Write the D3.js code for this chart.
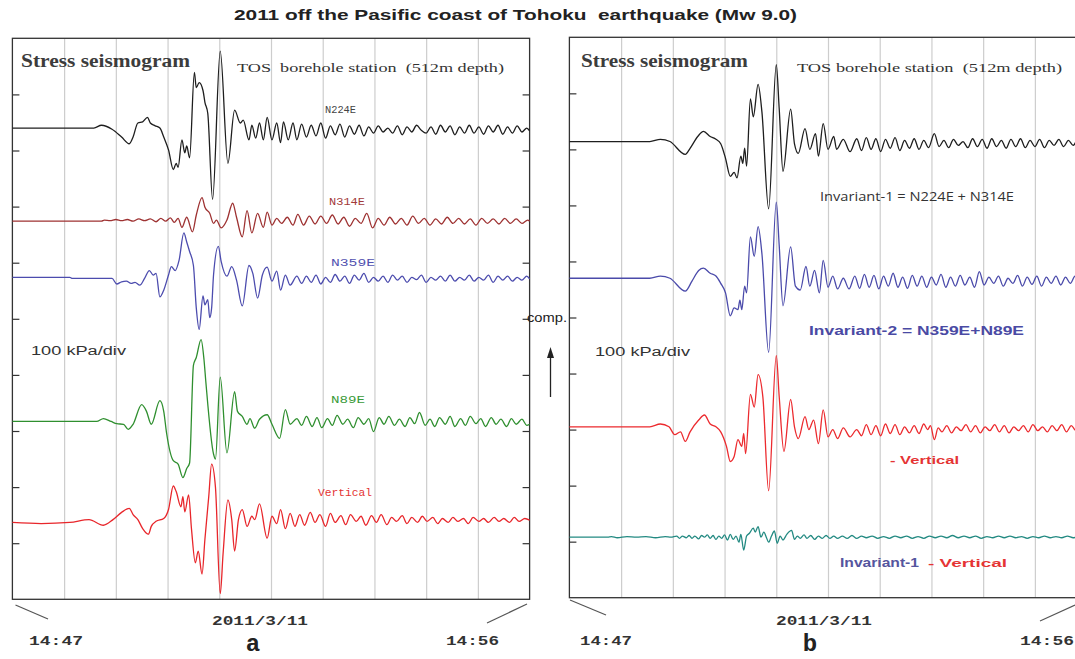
<!DOCTYPE html>
<html>
<head>
<meta charset="utf-8">
<script src="https://cdn.jsdelivr.net/npm/d3@7"></script>
<style>
  body { margin: 0; background: #fff; }
  svg { display: block; }
</style>
</head>
<body>
<svg id="chart" width="1075" height="659"></svg>
<script>
// time in seconds after 14:47 (axis runs to 14:56), stress in kPa (100 kPa/div)
var timeTicks = [54, 108, 162, 216, 270, 324, 378, 432, 486];
var kpaTicks = [100, 200, 300, 400, 500, 600, 700, 800, 900];

// trace baselines, kPa above the bottom of each panel
var offsetsA = [840, 674, 574, 317, 137];
var offsetsB = [814, 570, 305, 108];

// [seconds, kPa]
var n224e = [[0,0],[85,0],[93,5],[104,-2],[114,-16],[122,-28],[126,-16],[131,9],[136,11],[141,19],[144,9],[149,4],[154,0],[158,-16],[163,-39],[168,-74],[171,-63],[173,-70],[177,-21],[180,-44],[182,-32],[185,-53],[190,99],[192,72],[195,81],[199,67],[201,46],[204,26],[209,-127],[217,137],[225,-63],[232,32],[238,9],[241,14],[247,-21],[250,5],[254,-18],[258,9],[262,-21],[266,19],[271,-21],[276,9],[280,-26],[283,11],[288,-21],[293,9],[297,-21],
  [302,7],[307,-16],[312,5],[317,-14],[322,9],[327,-18],[332,4],[337,-12],[342,7],[347,-16],[352,4],[357,-11],[362,5],[367,-14],[372,2],[377,-9],[382,4],[387,-7],[392,0],[397,-9],[402,4],[407,-12],[412,2],[417,-7],[422,5],[427,-4],[432,-9],[437,2],[442,-11],[447,5],[452,-7],[457,4],[462,-12],[467,2],[472,-9],[477,5],[482,-9],[487,2],[492,-11],[497,4],[502,-7],[507,5],[512,-11],[517,2],[522,-9],[527,4],[532,-7],[537,0],[540,-5]];

var n314e = [[0,0],[93,0],[96,2],[102,1],[108,3],[114,1],[120,3],[126,0],[132,4],[138,1],[144,4],[150,-1],[155,5],[160,0],[165,6],[169,-2],[173,5],[177,-11],[182,7],[188,-19],[192,11],[198,42],[201,25],[206,14],[210,-4],[213,2],[218,-12],[224,2],[230,32],[234,7],[240,-28],[245,19],[250,-21],[256,14],[262,-11],[266,16],[271,-7],[276,5],[281,-4],[287,7],[293,-7],[298,12],[304,-7],[310,9],[316,-5],[322,9],[328,-4],[334,11],[340,-5],[346,7],[352,-9],[358,5],[364,-4],[370,14],[376,-12],[382,5],[388,-7],[394,7],[400,-5],[406,5],[412,-7],[418,9],[424,-4],[430,5],[436,-7],[442,4],[448,-5],[454,7],[460,-4],[466,5],[472,-5],[478,4],[484,-7],[490,5],[496,-4],[502,4],[508,-5],[514,5],[520,-4],[526,4],[532,-4],[538,2],[540,0]];

var n359e = [[0,0],[60,0],[62,-2],[104,-2],[109,-12],[114,-8],[119,-7],[124,-11],[128,-9],[133,-14],[138,-2],[143,12],[147,4],[150,7],[154,-35],[158,-23],[163,4],[166,19],[170,12],[174,30],[179,79],[182,63],[185,46],[189,21],[192,-55],[195,-93],[199,-33],[201,-49],[204,-40],[206,-72],[208,-55],[210,4],[215,55],[218,28],[224,2],[229,19],[234,-5],[240,-51],[247,21],[251,7],[256,-37],[261,4],[266,18],[271,-7],[276,11],[280,-23],[285,4],[290,-14],[297,2],
  [302,-11],[307,2],[312,-9],[317,4],[322,-12],[327,0],[332,-9],[337,5],[342,-7],[347,2],[352,-11],[357,4],[362,-5],[367,7],[372,-9],[377,0],[382,-7],[387,2],[392,-9],[397,4],[402,-5],[407,2],[412,-9],[417,0],[422,-4],[427,4],[432,-9],[437,0],[442,-5],[447,2],[452,-7],[457,4],[462,-7],[467,0],[472,-5],[477,4],[482,-7],[487,0],[492,-5],[497,4],[502,-9],[507,2],[512,-5],[517,2],[522,-7],[527,0],[532,-5],[537,2],[540,-3]];

var n89e = [[0,0],[88,0],[95,5],[103,0],[109,-4],[116,-5],[121,-14],[126,-5],[135,30],[140,18],[145,-5],[154,37],[158,18],[161,-21],[168,-70],[173,-76],[178,-100],[182,-84],[185,-74],[189,100],[192,114],[197,146],[200,111],[202,70],[210,-58],[212,-67],[217,79],[224,-56],[232,53],[235,18],[240,9],[245,-5],[248,5],[253,-12],[258,4],[266,12],[271,-5],[279,-30],[285,21],[290,-5],[297,5],
  [302,-7],[307,9],[313,-9],[318,7],[323,-11],[329,5],[334,-7],[339,11],[345,-5],[350,4],[356,-11],[361,7],[367,-5],[372,5],[377,-18],[383,7],[388,-5],[393,9],[399,-7],[404,4],[410,-9],[415,7],[420,-4],[425,16],[431,-7],[436,4],[441,-9],[446,7],[452,-5],[457,9],[462,-9],[468,5],[473,-7],[478,9],[484,-4],[489,5],[494,-9],[500,7],[505,-5],[510,4],[516,-9],[521,5],[526,-5],[532,4],[537,-7],[540,-5]];

var verticalA = [[0,0],[30,-2],[60,0],[80,5],[95,-5],[105,5],[114,18],[122,25],[126,14],[131,5],[136,-11],[142,-21],[145,-7],[150,2],[158,7],[163,23],[168,65],[171,55],[176,28],[178,46],[180,19],[184,49],[187,-12],[191,-72],[194,-51],[198,-92],[201,-30],[205,46],[208,104],[212,63],[217,-127],[220,-55],[225,40],[229,5],[232,-51],[236,5],[240,23],[245,-7],[250,11],[253,5],[258,33],[266,-28],[271,11],[276,-2],[280,23],[285,-11],[290,16],[295,-7],
  [300,14],[305,-5],[311,18],[316,0],[321,14],[327,-7],[332,16],[337,0],[343,12],[348,-4],[353,14],[359,2],[364,11],[369,-5],[375,12],[380,0],[385,14],[391,-4],[396,9],[401,2],[407,12],[412,-2],[417,9],[423,0],[428,11],[433,2],[439,9],[444,-2],[449,7],[455,0],[460,9],[465,2],[471,7],[476,-2],[481,9],[487,2],[492,7],[497,0],[503,9],[508,2],[513,7],[519,0],[524,9],[529,2],[535,7],[540,4]];

var invariant1 = [[0,0],[84,0],[95,4],[105,0],[121,-23],[126,-12],[134,9],[140,18],[147,9],[153,4],[158,-4],[163,-30],[168,-62],[172,-55],[175,-65],[179,-26],[181,-39],[183,-12],[185,-44],[189,76],[192,44],[197,102],[201,53],[208,-120],[216,137],[219,60],[223,-53],[231,58],[235,-4],[239,-21],[246,23],[251,-14],[257,14],[260,-26],[265,32],[270,-14],[276,9],[279,-14],[286,4],[293,-18],[300,5],
  [305,-16],[310,7],[315,-14],[320,5],[325,-18],[330,4],[335,-12],[340,7],[345,-16],[350,2],[355,-12],[360,5],[365,-14],[370,2],[375,-11],[381,14],[386,-9],[391,2],[396,-11],[401,4],[406,-7],[411,0],[416,-11],[421,5],[426,-9],[431,4],[436,-12],[441,5],[446,-9],[451,2],[456,-12],[461,4],[466,-9],[471,5],[476,-11],[481,2],[486,-9],[491,4],[496,-11],[501,2],[506,-7],[511,4],[516,-9],[521,2],[526,-7],[531,4],[536,-5],[540,0]];

var invariant2 = [[0,0],[84,0],[95,4],[105,0],[121,-23],[128,-5],[135,14],[140,18],[147,9],[153,4],[158,-9],[163,-26],[168,-67],[172,-53],[176,-56],[178,-39],[180,-56],[183,-14],[185,-26],[189,74],[193,39],[197,92],[201,44],[208,-132],[216,136],[219,60],[223,-49],[231,56],[236,-14],[241,-21],[247,21],[251,-14],[256,14],[261,-26],[265,32],[270,-16],[275,4],[280,-19],[286,0],[292,-19],[298,4],
  [303,-18],[308,7],[313,-16],[318,5],[323,-19],[328,4],[333,-14],[338,9],[343,-16],[348,2],[353,-18],[358,5],[363,-14],[368,4],[373,-16],[378,2],[383,-12],[388,7],[393,-16],[398,2],[403,-14],[408,5],[413,-12],[418,2],[423,-16],[428,12],[433,-12],[438,2],[443,-9],[448,4],[453,-14],[458,0],[463,-9],[468,5],[473,-14],[478,2],[483,-11],[488,4],[493,-14],[498,2],[503,-9],[508,4],[513,-12],[518,2],[523,-9],[528,4],[533,-9],[538,2],[540,-2]];

var verticalB = [[0,0],[84,0],[95,5],[104,0],[110,-14],[116,-9],[121,-26],[126,-9],[135,12],[141,21],[147,5],[153,0],[158,-9],[164,-35],[168,-62],[172,-53],[176,-23],[180,-35],[182,-12],[184,-48],[189,58],[193,35],[197,93],[202,53],[208,-114],[216,127],[219,55],[224,-44],[231,49],[235,0],[239,-21],[246,18],[250,-5],[255,12],[260,-30],[265,30],[270,-18],[275,-5],[280,-21],[286,-2],[293,-18],[300,-5],
  [305,-16],[310,4],[315,-14],[320,2],[325,-16],[330,5],[335,-12],[340,4],[345,-14],[350,0],[355,-11],[360,2],[365,-12],[370,5],[374,-5],[377,2],[381,-23],[385,-2],[389,-9],[394,2],[399,-11],[404,0],[409,-7],[414,4],[419,-9],[424,2],[429,-11],[434,0],[439,-7],[444,4],[449,-9],[454,2],[459,-11],[464,0],[469,-7],[474,2],[479,-9],[484,4],[489,-7],[494,0],[499,-9],[504,2],[509,-7],[514,4],[519,-9],[524,2],[529,-7],[534,0],[540,-4]];

var inv1MinusVert = [[0,0],[40,0],[44,1],[50,-1],[60,1],[70,0],[80,1],[90,-1],[100,1],[106,0],[112,2],[115,-2],[118,2],[122,-1],[125,3],[128,-2],[131,2],[135,-3],[138,3],[141,0],[144,4],[147,-2],[150,3],[153,-4],[156,2],[159,-2],[162,4],[165,-5],[168,5],[171,-4],[174,2],[177,-9],[179,5],[182,-23],[185,2],[188,7],[192,16],[194,9],[197,19],[200,0],[203,9],[206,-2],[208,-9],[211,2],[214,11],[217,-11],[220,2],[223,-5],[227,5],[232,12],[235,-4],[238,2],[241,-2],[245,4],[248,-2],[252,3],[256,-4],[260,2],[264,-2],[268,3],[272,-2],[276,2],[280,-2],[285,2],[290,-2],[295,3],[300,-2],[305,2],[310,-1],[316,2],[322,-2],[328,1],[334,-2],[340,2],[346,-1],[352,2],[358,-2],[364,1],[370,-2],[376,2],[382,-1],[388,2],[394,-1],[400,3],[406,-1],[412,2],[418,-1],[424,2],[430,-2],[436,1],[442,-1],[448,2],[454,-1],[460,2],[466,-1],[472,1],[478,-2],[484,1],[490,-1],[496,2],[502,-1],[508,1],[514,-1],[520,2],[526,-1],[532,1],[540,0]];

var svg = d3.select("#chart");

function drawPanel(left, right, top, bottom, series, offsets, colors) {
  var x = d3.scaleLinear().domain([0, 540]).range([left, right]);
  var y = d3.scaleLinear().domain([0, 1000]).range([bottom, top]);
  var g = svg.append("g");

  var grid = g.append("g")
      .attr("transform", "translate(0," + bottom + ")")
      .call(d3.axisBottom(x).tickValues(timeTicks).tickSize(-(bottom - top)).tickFormat(""));
  grid.select(".domain").remove();
  grid.selectAll("line").attr("stroke", "#cdcdcd").attr("stroke-width", 1.2);

  var yl = g.append("g")
      .attr("transform", "translate(" + left + ",0)")
      .call(d3.axisLeft(y).tickValues(kpaTicks).tickSize(-7).tickFormat(""));
  var yr = g.append("g")
      .attr("transform", "translate(" + right + ",0)")
      .call(d3.axisRight(y).tickValues(kpaTicks).tickSize(-7).tickFormat(""));
  [yl, yr].forEach(function(a) {
    a.select(".domain").remove();
    a.selectAll("line").attr("stroke", "#333").attr("stroke-width", 1.2);
  });

  g.append("rect")
      .attr("x", left).attr("y", top)
      .attr("width", right - left).attr("height", bottom - top)
      .attr("fill", "none").attr("stroke", "#333").attr("stroke-width", 1.3);

  series.forEach(function(s, i) {
    var line = d3.line()
        .curve(d3.curveMonotoneX)
        .x(function(d) { return x(d[0]); })
        .y(function(d) { return y(offsets[i] + d[1]); });
    g.append("path")
        .datum(s)
        .attr("d", line)
        .attr("fill", "none")
        .attr("stroke", colors[i])
        .attr("stroke-width", 1.3)
        .attr("stroke-linejoin", "round");
  });
}

drawPanel(12.4, 529.6, 38.3, 599.3,
  [n224e, n314e, n359e, n89e, verticalA], offsetsA,
  ["#1e1e1e", "#9e3232", "#4c4cae", "#2f8f2f", "#e8262b"]);
drawPanel(569.4, 1086.6, 37.3, 597.7,
  [invariant1, invariant2, verticalB, inv1MinusVert], offsetsB,
  ["#1e1e1e", "#4a4aaa", "#ec2a2e", "#238a82"]);

function label(x, y, txt, o) {
  var t = svg.append("text")
      .attr("x", x).attr("y", y)
      .style("white-space", "pre")
      .attr("font-family", o.font || "Liberation Serif")
      .attr("font-size", o.size || 12)
      .attr("font-weight", o.weight || "normal")
      .attr("fill", o.color || "#333")
      .attr("text-anchor", o.anchor || "start")
      .text(txt);
  if (o.len) t.attr("textLength", o.len).attr("lengthAdjust", "spacingAndGlyphs");
  return t;
}

var sans = "Liberation Sans", mono = "Liberation Mono";

label(234, 20, "2011 off the Pasific coast of Tohoku  earthquake (Mw 9.0)", {font: sans, size: 14, weight: "bold", color: "#222", len: 563});

// panel a
label(21, 67, "Stress seismogram", {size: 18, weight: "bold", color: "#3c3c3c", len: 169});
label(237, 72, "TOS  borehole station  (512m depth)", {size: 13, color: "#333", len: 267});
label(325, 113, "N224E", {font: mono, size: 11, color: "#444", len: 31});
label(329, 205, "N314E", {font: mono, size: 11, color: "#a23a3a", len: 36});
label(331, 266, "N359E", {font: mono, size: 11, color: "#5252b0", len: 44});
label(331, 403, "N89E", {font: mono, size: 11, color: "#3a9a3a", len: 34});
label(318, 496, "Vertical", {font: mono, size: 11, color: "#e43232", len: 54});
label(31, 355, "100 kPa/div", {font: sans, size: 12, color: "#333", len: 95});
label(212, 625, "2011/3/11", {font: mono, size: 12, weight: "bold", color: "#333", len: 96});
label(29, 645, "14:47", {font: mono, size: 12, weight: "bold", color: "#333", len: 54});
label(446, 645, "14:56", {font: mono, size: 12, weight: "bold", color: "#333", len: 53});
label(253, 651, "a", {font: mono, size: 24, weight: "bold", color: "#222", anchor: "middle"});

// panel b
label(581, 67, "Stress seismogram", {size: 18, weight: "bold", color: "#3c3c3c", len: 167});
label(797, 72, "TOS borehole station  (512m depth)", {size: 13, color: "#333", len: 265});
label(820, 201, "Invariant-1 = N224E + N314E", {font: "Open Sans", size: 13, color: "#333", len: 194});
label(809, 335, "Invariant-2 = N359E+N89E", {font: sans, size: 13, weight: "bold", color: "#4a4aa4", len: 215});
label(595, 356, "100 kPa/div", {font: sans, size: 12, color: "#333", len: 95});
label(527, 322, "comp.", {font: sans, size: 13, color: "#222", len: 40});
label(890, 464, "- Vertical", {font: sans, size: 11, weight: "bold", color: "#e53434", len: 69});
label(840, 567, "Invariant-1", {font: sans, size: 12, weight: "bold", color: "#55559e", len: 79});
label(928, 567, "- Vertical", {font: sans, size: 11, weight: "bold", color: "#e53434", len: 79});
label(776, 625, "2011/3/11", {font: mono, size: 12, weight: "bold", color: "#333", len: 96});
label(580, 645, "14:47", {font: mono, size: 12, weight: "bold", color: "#333", len: 52});
label(1020, 645, "14:56", {font: mono, size: 12, weight: "bold", color: "#333", len: 54});
label(810, 651, "b", {font: mono, size: 24, weight: "bold", color: "#222", anchor: "middle"});

// comp. arrow
svg.append("line").attr("x1", 550.5).attr("y1", 397).attr("x2", 550.5).attr("y2", 356)
    .attr("stroke", "#222").attr("stroke-width", 1.3);
svg.append("path").attr("d", "M550.5,347 L547,358 L554,358 Z").attr("fill", "#222");

// leader lines from time labels to panel corners
var leaders = [[15.5, 605, 48, 619], [487, 623, 527, 604], [570, 600, 606, 615], [1040, 621, 1075, 605]];
svg.selectAll("line.leader").data(leaders).enter().append("line")
    .attr("class", "leader")
    .attr("x1", function(d) { return d[0]; }).attr("y1", function(d) { return d[1]; })
    .attr("x2", function(d) { return d[2]; }).attr("y2", function(d) { return d[3]; })
    .attr("stroke", "#555").attr("stroke-width", 1.2);
</script>
</body>
</html>
